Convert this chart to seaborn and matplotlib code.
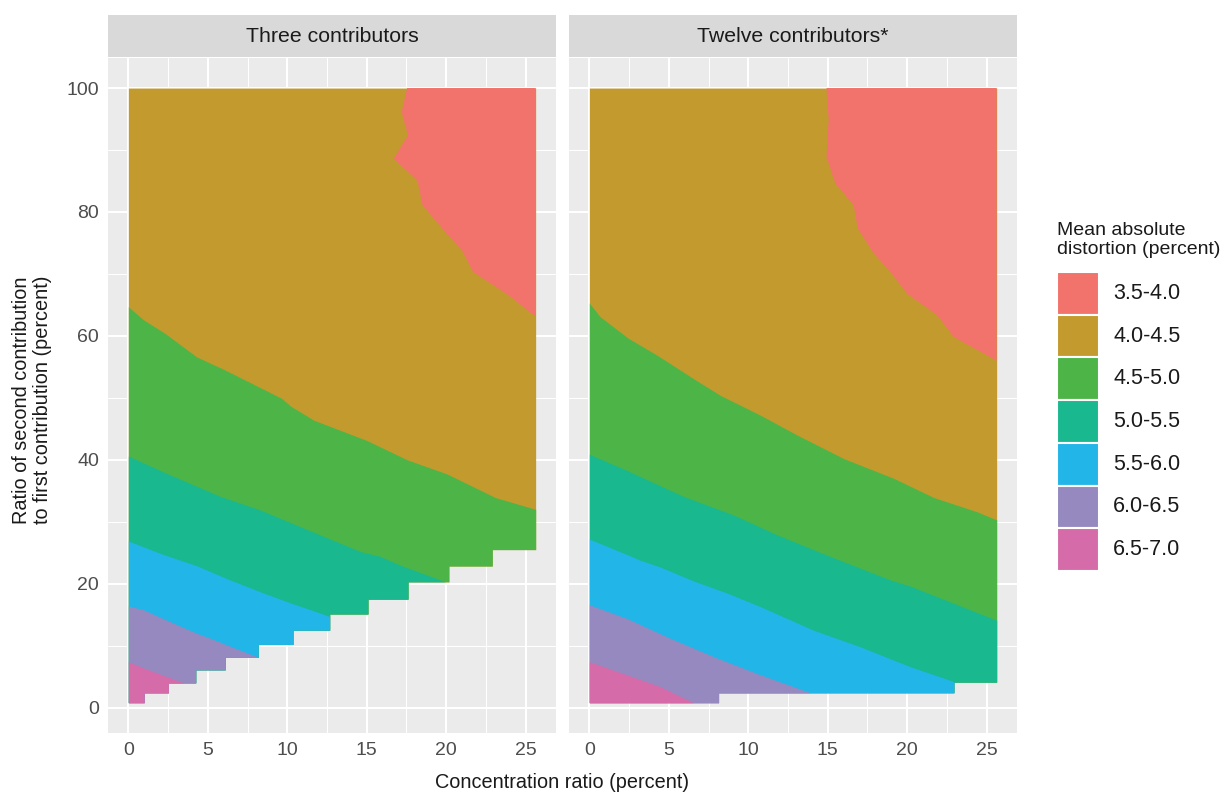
import numpy as np
import matplotlib
matplotlib.use("Agg")
import matplotlib.pyplot as plt
import seaborn as sns
from matplotlib.patches import Rectangle

# ---------------- data ----------------
panel_titles = ["Three contributors", "Twelve contributors*"]
band_labels = ["3.5-4.0", "4.0-4.5", "4.5-5.0", "5.0-5.5", "5.5-6.0", "6.0-6.5", "6.5-7.0"]
band_colors = ["#F2736C", "#C39A2E", "#4DB548", "#19B88F", "#22B5E8", "#9589C0", "#D56CA9"]
x_ticks = [0, 5, 10, 15, 20, 25]
y_ticks = [0, 20, 40, 60, 80, 100]
x_end = 25.63
y_top = 100

# Three contributors: lower edge of the computed region (staircase)
three_step_x = [0, 1.0, 2.52, 4.24, 6.09, 8.17, 10.36, 12.67, 15.08, 17.6, 20.17, 22.9]
three_step_y = [0.8, 2.4, 4.0, 6.1, 8.1, 10.2, 12.5, 15.1, 17.5, 20.3, 22.85, 25.5]
# contour boundaries
three_b40_x = [17.54, 17.2, 17.6, 16.7, 18.2, 18.5, 20.2, 21.0, 21.7, 23.9, 25.63]
three_b40_y = [100, 96.1, 92.4, 88.6, 85.0, 81.1, 76.0, 73.8, 70.3, 66.6, 63.1]
three_b45_x = [0, 0.95, 2.31, 4.3, 6.0, 7.25, 9.66, 10.19, 11.66, 15.02, 17.54, 20.06, 23.1, 25.63]
three_b45_y = [64.7, 62.6, 60.4, 56.6, 54.6, 53.0, 49.9, 48.7, 46.4, 43.1, 40.0, 37.7, 33.9, 32.0]
three_b50_x = [0, 2.42, 5.78, 8.3, 10.82, 14.6, 15.86, 17.1, 19.96]
three_b50_y = [40.6, 37.8, 34.1, 31.9, 29.2, 25.2, 24.4, 23.0, 20.3]
three_b55_x = [0, 2.0, 3.26, 4.3, 6.4, 8.3, 9.98, 12.7]
three_b55_y = [26.9, 24.9, 23.8, 22.9, 20.6, 18.7, 17.1, 14.7]
three_b60_x = [0, 0.95, 2.42, 4.3, 5.15, 6.6, 8.1]
three_b60_y = [16.4, 15.8, 14.1, 12.0, 11.2, 9.7, 8.2]
three_b65_x = [0, 0.95, 2.42, 3.47]
three_b65_y = [7.4, 6.4, 5.0, 4.0]

# Twelve contributors
twelve_step_x = [0, 8.13, 22.94]
twelve_step_y = [0.8, 2.4, 4.1]
twelve_b40_x = [14.92, 15.06, 14.92, 15.48, 16.63, 16.9, 17.9, 18.95, 20.0, 21.9, 22.94, 25.63]
twelve_b40_y = [100, 94.8, 88.9, 84.6, 81.1, 77.3, 73.3, 70.3, 66.8, 63.3, 59.8, 56.0]
twelve_b45_x = [0, 0.67, 2.46, 4.25, 6.55, 8.24, 10.76, 13.07, 16.0, 19.16, 21.68, 24.4, 25.63]
twelve_b45_y = [65.3, 63.1, 59.6, 56.9, 53.1, 50.4, 47.2, 44.0, 40.2, 37.0, 33.9, 31.6, 30.3]
twelve_b50_x = [0, 2.35, 5.92, 9.07, 11.8, 14.96, 18.95, 20.2, 25.63]
twelve_b50_y = [40.9, 38.3, 34.1, 31.1, 27.9, 24.6, 20.6, 19.6, 14.1]
twelve_b55_x = [0, 2.56, 3.19, 4.45, 6.55, 8.66, 10.76, 14.1, 17.06, 20.2, 22.94]
twelve_b55_y = [27.2, 24.5, 23.8, 22.7, 20.45, 18.5, 16.3, 12.5, 9.8, 6.6, 4.2]
twelve_b60_x = [0, 2.35, 5.08, 8.03, 10.76, 13.9]
twelve_b60_y = [16.6, 14.4, 11.2, 8.0, 5.3, 2.4]
twelve_b65_x = [0, 2.35, 4.45, 6.55]
twelve_b65_y = [7.4, 5.3, 3.4, 0.8]

panels = [
    dict(step_x=three_step_x, step_y=three_step_y, b40=(three_b40_x, three_b40_y),
         bounds=[(three_b45_x, three_b45_y), (three_b50_x, three_b50_y), (three_b55_x, three_b55_y),
                 (three_b60_x, three_b60_y), (three_b65_x, three_b65_y)]),
    dict(step_x=twelve_step_x, step_y=twelve_step_y, b40=(twelve_b40_x, twelve_b40_y),
         bounds=[(twelve_b45_x, twelve_b45_y), (twelve_b50_x, twelve_b50_y), (twelve_b55_x, twelve_b55_y),
                 (twelve_b60_x, twelve_b60_y), (twelve_b65_x, twelve_b65_y)]),
]

# ---------------- style ----------------
sns.set_theme(style="darkgrid", rc={
    "axes.facecolor": "#EBEBEB",
    "grid.color": "white",
    "axes.edgecolor": "none",
})
plt.rcParams["font.family"] = ["Liberation Sans", "DejaVu Sans"]

W, H = 1224, 793
fig = plt.figure(figsize=(W / 100, H / 100), dpi=100)
fig.patch.set_facecolor("white")


def frac(x0, y0, x1, y1):
    return [x0 / W, 1 - y1 / H, (x1 - x0) / W, (y1 - y0) / H]


panel_px = [(108, 556), (569, 1017)]
panel_top, panel_bot = 58, 733
strip_top = 15

xlim = (-1.28, 26.91)
ylim = (-4.1, 104.85)

for i, (p, (xa, xb)) in enumerate(zip(panels, panel_px)):
    ax = fig.add_axes(frac(xa, panel_top, xb, panel_bot))
    ax.set_xlim(*xlim)
    ax.set_ylim(*ylim)
    ax.set_xticks(x_ticks)
    ax.set_yticks(y_ticks)
    ax.set_xticks([2.5, 7.5, 12.5, 17.5, 22.5], minor=True)
    ax.set_yticks([10, 30, 50, 70, 90], minor=True)
    ax.grid(which="major", color="white", lw=1.5)
    ax.grid(which="minor", color="white", lw=0.75)
    ax.set_axisbelow(True)
    for s in ax.spines.values():
        s.set_visible(False)
    ax.tick_params(which="major", length=4, width=1.1, color="#333333",
                   labelcolor="#4D4D4D", labelsize=14, pad=2.5)
    ax.tick_params(which="minor", length=0)
    if i == 1:
        ax.tick_params(axis="y", which="both", left=False, labelleft=False)

    # staircase floor on a fine grid
    sx = np.array(p["step_x"], float)
    sy = np.array(p["step_y"], float)
    xg = np.linspace(0, x_end, 4000)
    xg = np.unique(np.concatenate([xg, sx, np.clip(sx[1:] - 1e-6, 0, None), [x_end]]))
    idx = np.clip(np.searchsorted(sx, xg, side="right") - 1, 0, len(sy) - 1)
    floor = sy[idx]

    # base band (4.0-4.5)
    ax.fill_between(xg, floor, y_top, color=band_colors[1], lw=0, zorder=2)
    # top-right band (3.5-4.0)
    bx, by = p["b40"]
    ax.fill(list(bx) + [x_end], list(by) + [y_top], color=band_colors[0], lw=0, zorder=3)
    # lower bands
    for k, (cx, cy) in enumerate(p["bounds"]):
        upper = np.interp(xg, cx, cy, right=-1e9)
        upper = np.maximum(upper, floor)
        ax.fill_between(xg, floor, upper, color=band_colors[k + 2], lw=0, zorder=4 + k)

    # strip
    sax = fig.add_axes(frac(xa, strip_top, xb, panel_top - 1))
    sax.set_facecolor("#D9D9D9")
    sax.set_xticks([])
    sax.set_yticks([])
    sax.grid(False)
    for s in sax.spines.values():
        s.set_visible(False)
    sax.text(0.5, 0.5, panel_titles[i], ha="center", va="center", fontsize=15.3,
             color="#1A1A1A", transform=sax.transAxes)

# axis titles
fig.text(562.5 / W, 1 - 783 / H, "Concentration ratio (percent)", ha="center", va="center",
         fontsize=14.3, color="#1A1A1A")
fig.text(32 / W, 1 - 400 / H, "Ratio of second contribution\nto first contribution (percent)",
         ha="center", va="center", rotation=90, fontsize=14.3, color="#1A1A1A",
         multialignment="center", linespacing=1.1)

# legend
lax = fig.add_axes([0, 0, 1, 1], facecolor="none")
lax.set_xlim(0, W)
lax.set_ylim(H, 0)
lax.axis("off")
lax.text(1057, 240, "Mean absolute\ndistortion (percent)", ha="left", va="center",
         fontsize=14, color="#1A1A1A", linespacing=1.15)
key_top, key_h, key_w = 272, 42.7, 42
for j, (lab, col) in enumerate(zip(band_labels, band_colors)):
    y0 = key_top + j * key_h
    lax.add_patch(Rectangle((1057, y0), key_w, key_h, facecolor=col, edgecolor="white", lw=1.5))
    lax.text(1113, y0 + key_h / 2, lab, ha="left", va="center", fontsize=15.5, color="#1A1A1A")

fig.savefig("out.png", dpi=100)
